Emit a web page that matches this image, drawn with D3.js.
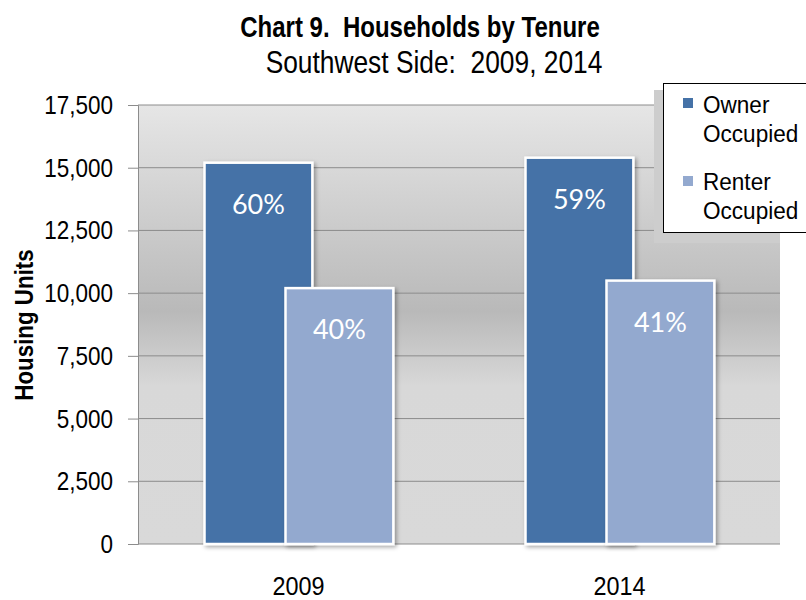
<!DOCTYPE html>
<html>
<head>
<meta charset="utf-8">
<script src="https://cdn.jsdelivr.net/npm/d3@7/dist/d3.min.js"></script>
<style>
  html, body { margin: 0; padding: 0; background: #fff; }
  svg { display: block; }
  text { font-family: "Liberation Sans", Arial, sans-serif; fill: #000; white-space: pre; }
</style>
</head>
<body>
<svg id="chart" width="806" height="600"></svg>
<script>
// Households by tenure, Southwest Side
const years = ["2009", "2014"];
const ownerOccupied = [15200, 15400];
const renterOccupied = [10200, 10500];
const seriesNames = ["Owner Occupied", "Renter Occupied"];
const yTicks = [0, 2500, 5000, 7500, 10000, 12500, 15000, 17500];

const svg = d3.select("#chart");
const defs = svg.append("defs");

// plot-area fill: light at top, darker through the middle, flat below
const grad = defs.append("linearGradient")
  .attr("id", "plotBg").attr("x1", 0).attr("y1", 0).attr("x2", 0).attr("y2", 1);
[[0, "#e6e6e6"], [0.47, "#b9b9b9"], [0.64, "#d8d8d8"], [1, "#d9d9d9"]].forEach(([o, c]) =>
  grad.append("stop").attr("offset", o).attr("stop-color", c));

const shadow = defs.append("filter").attr("id", "barShadow")
  .attr("x", "-20%").attr("y", "-10%").attr("width", "140%").attr("height", "120%");
shadow.append("feDropShadow").attr("dx", 2).attr("dy", 2)
  .attr("stdDeviation", 2).attr("flood-color", "#000").attr("flood-opacity", 0.35);

const plot = { left: 138, right: 780, top: 105, bottom: 544 };

const x = d3.scaleBand().domain(years).range([plot.left, plot.right]).padding(0);
const y = d3.scaleLinear().domain([0, 17500]).range([plot.bottom, plot.top]);

// background
svg.append("rect")
  .attr("x", plot.left).attr("y", plot.top)
  .attr("width", plot.right - plot.left).attr("height", plot.bottom - plot.top)
  .attr("fill", "url(#plotBg)");

// gridlines
svg.append("g").selectAll("line").data(yTicks).join("line")
  .attr("x1", plot.left).attr("x2", plot.right)
  .attr("y1", d => y(d)).attr("y2", d => y(d))
  .attr("stroke", "#8c8c8c").attr("stroke-width", 1);

// y axis with outward ticks
const yAxis = d3.axisLeft(y).tickValues(yTicks).tickSize(10).tickFormat("");
const yg = svg.append("g").attr("transform", `translate(${plot.left},0)`).call(yAxis);
yg.select(".domain").attr("stroke", "#8c8c8c");
yg.selectAll(".tick line").attr("stroke", "#8c8c8c");

const fmt = d3.format(",");
svg.append("g").selectAll("text").data(yTicks).join("text")
  .attr("transform", d => `translate(113,${y(d) + 9}) scale(0.9,1)`)
  .attr("text-anchor", "end")
  .style("font-size", "25px")
  .text(d => fmt(d));

// y title
svg.append("text")
  .attr("transform", "translate(33,325) rotate(-90) scale(0.86,1)")
  .attr("text-anchor", "middle")
  .style("font-size", "26px").style("font-weight", "bold")
  .text("Housing Units");

// x labels
svg.append("g").selectAll("text").data(years).join("text")
  .attr("transform", d => `translate(${x(d) + x.bandwidth() / 2},595) scale(0.9,1)`)
  .attr("text-anchor", "middle")
  .style("font-size", "26px")
  .text(d => d);

// bars: two overlapping series per year
const colors = ["#4572a7", "#93a9cf"];
const barW = x.bandwidth() * 0.336;
const offsets = [-94, -13];
const series = [ownerOccupied, renterOccupied];

series.forEach((vals, si) => {
  const g = svg.append("g");
  years.forEach((yr, i) => {
    const cx = x(yr) + x.bandwidth() / 2;
    const bx = cx + offsets[si];
    g.append("rect")
      .attr("x", bx).attr("y", y(vals[i]))
      .attr("width", barW).attr("height", y(0) - y(vals[i]))
      .attr("fill", colors[si])
      .attr("stroke", "#fff").attr("stroke-width", 2.5)
      .attr("filter", "url(#barShadow)");
  });
});

// percentage labels inside bar ends
series.forEach((vals, si) => {
  years.forEach((yr, i) => {
    const total = ownerOccupied[i] + renterOccupied[i];
    const pct = Math.round(vals[i] / total * 100);
    const cx = x(yr) + x.bandwidth() / 2 + offsets[si] + barW / 2;
    svg.append("text")
      .attr("x", cx).attr("y", y(vals[i]) + 51)
      .attr("text-anchor", "middle")
      .style("font-family", "Lato, 'Open Sans', sans-serif")
      .style("font-size", "27px")
      .style("fill", "#fff")
      .text(pct + "%");
  });
});

// legend with shadow
const lg = svg.append("g");
lg.append("rect").attr("x", 654).attr("y", 90).attr("width", 126).attr("height", 153)
  .attr("fill", "#cdcdcd");
lg.append("rect").attr("x", 663.5).attr("y", 83.5).attr("width", 160).attr("height", 149)
  .attr("fill", "#fff").attr("stroke", "#000").attr("stroke-width", 1);

const legendRows = [
  { lines: ["Owner", "Occupied"], sq: 98, base: 113 },
  { lines: ["Renter", "Occupied"], sq: 176, base: 190 }
];
legendRows.forEach((r, i) => {
  lg.append("rect").attr("x", 683).attr("y", r.sq).attr("width", 10).attr("height", 10)
    .attr("fill", colors[i]);
  r.lines.forEach((t, j) => {
    lg.append("text")
      .attr("transform", `translate(703,${r.base + j * 29}) scale(0.94,1)`)
      .style("font-size", "24px")
      .text(t);
  });
});

// titles
svg.append("text")
  .attr("transform", "translate(420,37) scale(0.8,1)")
  .attr("text-anchor", "middle")
  .style("font-size", "30px").style("font-weight", "bold")
  .text("Chart 9.  Households by Tenure");
svg.append("text")
  .attr("transform", "translate(434,73) scale(0.85,1)")
  .attr("text-anchor", "middle")
  .style("font-size", "31px")
  .text("Southwest Side:  2009, 2014");
</script>
</body>
</html>
